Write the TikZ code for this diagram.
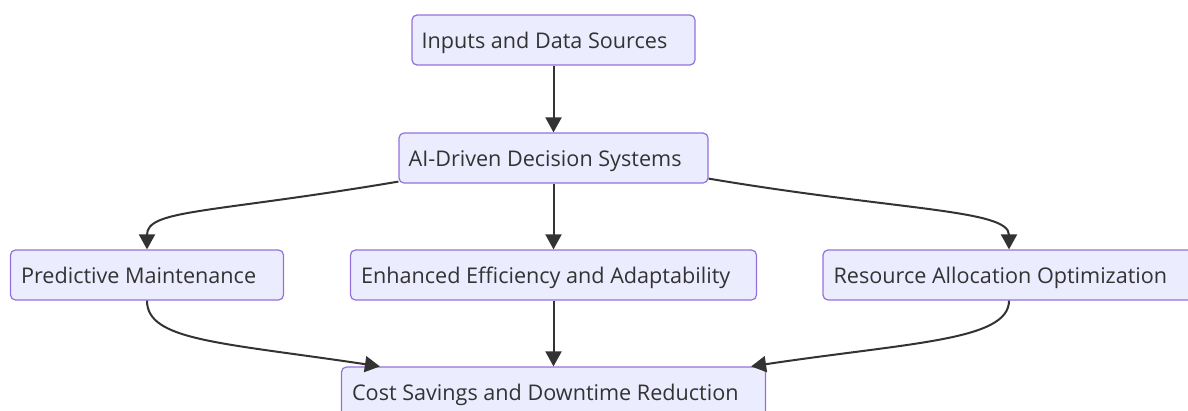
\documentclass[tikz,border=0pt]{standalone}
\usepackage{fontspec}
\setmainfont{Open Sans}
\usetikzlibrary{arrows.meta}
\definecolor{boxfill}{HTML}{ECECFF}
\definecolor{boxline}{HTML}{9370DB}
\definecolor{edge}{HTML}{333333}
\definecolor{ink}{HTML}{333333}
\tikzset{
  flowbox/.style={draw=boxline, fill=boxfill, line width=1.2pt, rounded corners=5pt,
    minimum height=50pt, inner sep=0pt},
  boxlabel/.style={anchor=base west, text=ink, inner sep=0pt, font=\fontsize{21.6}{26}\selectfont},
  flow/.style={draw=edge, line width=2pt, -{Triangle[length=15pt,width=16pt]}}
}
\begin{document}
\begin{tikzpicture}[x=1pt,y=1pt]
\useasboundingbox (0,0) rectangle (1188,-410);
% boxes
\node[flowbox, minimum width=283pt] (inputs) at (553.5,-40) {};
\node[flowbox, minimum width=309pt] (ai) at (553.5,-158) {};
\node[flowbox, minimum width=273pt] (pred) at (147,-275) {};
\node[flowbox, minimum width=406pt] (enh) at (553.5,-275) {};
\node[flowbox, minimum width=372pt] (res) at (1009,-275) {};
\node[flowbox, minimum width=424pt] (cost) at (553.5,-392) {};
% labels
\node[boxlabel] (tinputs) at ([xshift=10pt,yshift=-8pt]inputs.west) {Inputs and Data Sources};
\node[boxlabel] (tai) at ([xshift=10pt,yshift=-8pt]ai.west) {AI-Driven Decision Systems};
\node[boxlabel] (tpred) at ([xshift=11pt,yshift=-8pt]pred.west) {Predictive Maintenance};
\node[boxlabel] (tenh) at ([xshift=11pt,yshift=-8pt]enh.west) {Enhanced Efficiency and Adaptability};
\node[boxlabel] (tres) at ([xshift=11pt,yshift=-8pt]res.west) {Resource Allocation Optimization};
\node[boxlabel] (tcost) at ([xshift=11pt,yshift=-8pt]cost.west) {Cost Savings and Downtime Reduction};
% connectors
\draw[flow] (inputs.south) -- (ai.north);
\draw[flow] (ai.south) -- (enh.north);
\draw[flow] (enh.south) -- (cost.north);
\draw[flow] ([yshift=2pt]ai.south west) .. controls +(-190,-32) and +(0,40) .. (pred.north);
\draw[flow] ([yshift=5pt]ai.south east) .. controls +(190,-32) and +(0,40) .. (res.north);
\draw[flow] (pred.south) .. controls +(0,-40) and +(-160,24) .. ([xshift=39pt]cost.north west);
\draw[flow] (res.south) .. controls +(0,-40) and +(160,24) .. ([xshift=-15pt]cost.north east);
\end{tikzpicture}
\end{document}
